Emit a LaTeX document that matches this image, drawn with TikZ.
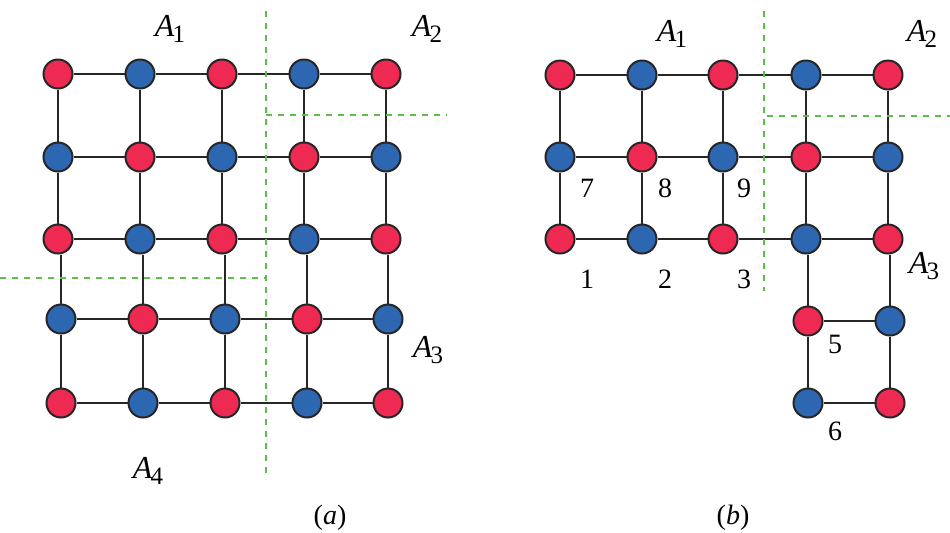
\documentclass[tikz,border=0pt]{standalone}
\usepackage{fontspec}
\setmainfont{Liberation Serif}
\definecolor{nred}{HTML}{EE2A52}
\definecolor{nblue}{HTML}{2E67B1}
\definecolor{dgreen}{HTML}{5CBF48}
\newcommand{\Alab}[1]{{\fontsize{16}{16}\selectfont\itshape A}\kern-0.8pt\raisebox{-3.2pt}{\fontsize{12.5}{12.5}\selectfont #1}}
\begin{document}
\begin{tikzpicture}[x=0.5pt,y=-0.5pt,
  rnode/.style={circle,draw=black!85,line width=1pt,fill=nred,minimum size=14.5pt,inner sep=0pt},
  bnode/.style={circle,draw=black!85,line width=1pt,fill=nblue,minimum size=14.5pt,inner sep=0pt},
  edge/.style={draw=black!85,line width=1pt},
  part/.style={draw=dgreen,line width=0.8pt,dash pattern=on 3pt off 3pt},
  lab/.style={font=\fontsize{14}{14}\selectfont,inner sep=0pt},
  alab/.style={inner sep=0pt}]
\useasboundingbox (0,0) rectangle (950,532);
% ---------- panel (a) nodes ----------
\foreach \r/\y in {1/74,2/157,3/239}{
  \foreach \c/\x in {1/58,2/140,3/222,4/304,5/386}{
    \pgfmathtruncatemacro\p{mod(\r+\c,2)}
    \ifnum\p=0 \node[rnode] (a-\r-\c) at (\x,\y) {}; \else \node[bnode] (a-\r-\c) at (\x,\y) {}; \fi
  }}
\foreach \r/\y in {4/319,5/403}{
  \foreach \c/\x in {1/61,2/143,3/225,4/307,5/388}{
    \pgfmathtruncatemacro\p{mod(\r+\c,2)}
    \ifnum\p=0 \node[rnode] (a-\r-\c) at (\x,\y) {}; \else \node[bnode] (a-\r-\c) at (\x,\y) {}; \fi
  }}
% panel (a) edges
\foreach \r in {1,...,5}{
  \foreach \c [evaluate=\c as \d using {int(\c+1)}] in {1,...,4}{
    \draw[edge] (a-\r-\c) -- (a-\r-\d);
  }}
\foreach \r [evaluate=\r as \s using {int(\r+1)}] in {1,2,4}{
  \foreach \c in {1,...,5}{
    \draw[edge] (a-\r-\c) -- (a-\s-\c);
  }}
\foreach \c in {1,...,5}{
  \draw[edge] (a-4-\c |- a-3-\c.south) -- (a-4-\c);
}
% panel (a) partition lines
\coordinate (av1) at (266,11);
\coordinate (av2) at (266,479);
\coordinate (ah1) at (266,115);
\coordinate (ah2) at (447,115);
\coordinate (ah3) at (0,278);
\coordinate (ah4) at (266,278);
\draw[part] (av1) -- (av2);
\draw[part] (ah1) -- (ah2);
\draw[part] (ah3) -- (ah4);
% panel (a) labels
\node[alab] (aA1) at (170,29) {\Alab{1}};
\node[alab] (aA2) at (427,29) {\Alab{2}};
\node[alab] (aA3) at (428,350) {\Alab{3}};
\node[alab] (aA4) at (148,471) {\Alab{4}};
\node[lab] (acap) at (330,518) {(\textit{a})};
% ---------- panel (b) nodes ----------
\foreach \r/\y in {1/75,2/157,3/239}{
  \foreach \c/\x in {1/560,2/642,3/723,4/806,5/888}{
    \pgfmathtruncatemacro\p{mod(\r+\c,2)}
    \ifnum\p=0 \node[rnode] (b-\r-\c) at (\x,\y) {}; \else \node[bnode] (b-\r-\c) at (\x,\y) {}; \fi
  }}
\foreach \r/\y in {4/321,5/403}{
  \foreach \c/\x in {4/808,5/890}{
    \pgfmathtruncatemacro\p{mod(\r+\c,2)}
    \ifnum\p=0 \node[rnode] (b-\r-\c) at (\x,\y) {}; \else \node[bnode] (b-\r-\c) at (\x,\y) {}; \fi
  }}
% panel (b) edges
\foreach \r in {1,2,3}{
  \foreach \c [evaluate=\c as \d using {int(\c+1)}] in {1,...,4}{
    \draw[edge] (b-\r-\c) -- (b-\r-\d);
  }}
\foreach \r [evaluate=\r as \s using {int(\r+1)}] in {1,2}{
  \foreach \c in {1,...,5}{
    \draw[edge] (b-\r-\c) -- (b-\s-\c);
  }}
\draw[edge] (b-4-4 |- b-3-4.south) -- (b-4-4);
\draw[edge] (b-4-5 |- b-3-5.south) -- (b-4-5);
\draw[edge] (b-4-4) -- (b-5-4);
\draw[edge] (b-4-5) -- (b-5-5);
\draw[edge] (b-4-4) -- (b-4-5);
\draw[edge] (b-5-4) -- (b-5-5);
% panel (b) partition lines
\coordinate (bv1) at (764,11);
\coordinate (bv2) at (764,291);
\coordinate (bh1) at (767,116);
\coordinate (bh2) at (950,116);
\draw[part] (bv1) -- (bv2);
\draw[part] (bh1) -- (bh2);
% panel (b) labels
\node[alab] (bA1) at (672,34) {\Alab{1}};
\node[alab] (bA2) at (922,34) {\Alab{2}};
\node[alab] (bA3) at (924,266) {\Alab{3}};
\node[lab] (n7) at (587,188) {7};
\node[lab] (n8) at (665,188) {8};
\node[lab] (n9) at (744,188) {9};
\node[lab] (n1) at (587,279) {1};
\node[lab] (n2) at (665,279) {2};
\node[lab] (n3) at (744,279) {3};
\node[lab] (n5) at (835,344) {5};
\node[lab] (n6) at (835,431) {6};
\node[lab] (bcap) at (733,518) {(\textit{b})};
\end{tikzpicture}
\end{document}
